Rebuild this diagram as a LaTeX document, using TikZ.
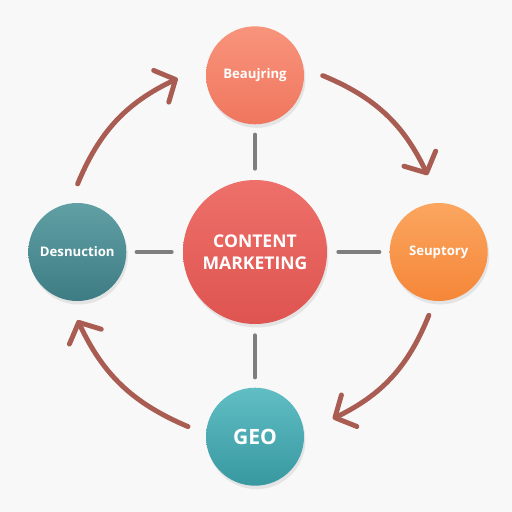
\documentclass[tikz,border=0pt]{standalone}
\usepackage{fontspec}
\setsansfont{Open Sans}
\usetikzlibrary{calc,positioning,shadows,arrows.meta}
\definecolor{bgwhite}{HTML}{F8F8F8}
\definecolor{linkgray}{HTML}{7E7E7E}
\definecolor{flowbrown}{HTML}{A85C52}

\begin{document}
\begin{tikzpicture}[
	stage/.style={circle, minimum size=1.96cm, inner sep=0pt, text=white,
		font=\sffamily\bfseries\fontsize{7.5}{9}\selectfont,
		drop shadow={opacity=0.16, shadow xshift=0.03cm, shadow yshift=-0.07cm}},
	hub/.style={stage, minimum size=2.88cm, align=center,
		font=\sffamily\bfseries\fontsize{10}{12.3}\selectfont},
	link/.style={draw=linkgray, line width=2.3pt, line cap=round,
		shorten >=0.22cm, shorten <=0.2cm},
	flow/.style={draw=flowbrown, line width=2.8pt, line cap=round,
		-{Straight Barb[length=9pt, width=20pt, round]}}
	]
	\useasboundingbox[fill=bgwhite] (0,0) rectangle (10.24,-10.24);

	\node[hub, top color={rgb,255:red,238;green,112;blue,106}, bottom color={rgb,255:red,222;green,84;blue,80}] (CM) at (5.10,-5.04) {CONTENT\\MARKETING};
	\node[stage, top color={rgb,255:red,248;green,148;blue,124}, bottom color={rgb,255:red,240;green,118;blue,94}] (B) [above=1.1cm of CM] {Beaujring};
	\node[stage, top color={rgb,255:red,96;green,160;blue,164}, bottom color={rgb,255:red,62;green,124;blue,132}] (D) [left=1.12cm of CM] {Desnuction};
	\node[stage, top color={rgb,255:red,251;green,166;blue,96}, bottom color={rgb,255:red,245;green,134;blue,56}] (S) [right=1.24cm of CM] {Seuptory};
	\node[stage, font=\sffamily\bfseries\fontsize{12}{14}\selectfont, top color={rgb,255:red,96;green,190;blue,196}, bottom color={rgb,255:red,56;green,152;blue,160}] (G) [below=1.26cm of CM] {GEO};

	% spokes
	\draw[link] (B) -- (CM);
	\draw[link] (D) -- (CM);
	\draw[link] (S) -- (CM);
	\draw[link] (G) -- (CM);

	% cycle arrows
	\coordinate (f1) at ($(CM)+(159:3.8)$);
	\coordinate (t1) at ($(CM)+(114:3.8)$);
	\coordinate (f2) at ($(CM)+(69:3.78)$);
	\coordinate (t2) at ($(CM)+(24:3.78)$);
	\coordinate (f3) at ($(CM)+(-20:3.7)$);
	\coordinate (t3) at ($(CM)+(-65:3.68)$);
	\coordinate (f4) at ($(CM)+(249:3.74)$);
	\coordinate (t4) at ($(CM)+(201:3.8)$);
	\draw[flow] (f1) to[bend left=21] (t1);
	\draw[flow] (f2) to[bend left=21] (t2);
	\draw[flow] (f3) to[bend left=21] (t3);
	\draw[flow] (f4) to[bend left=21] (t4);
\end{tikzpicture}
\end{document}
